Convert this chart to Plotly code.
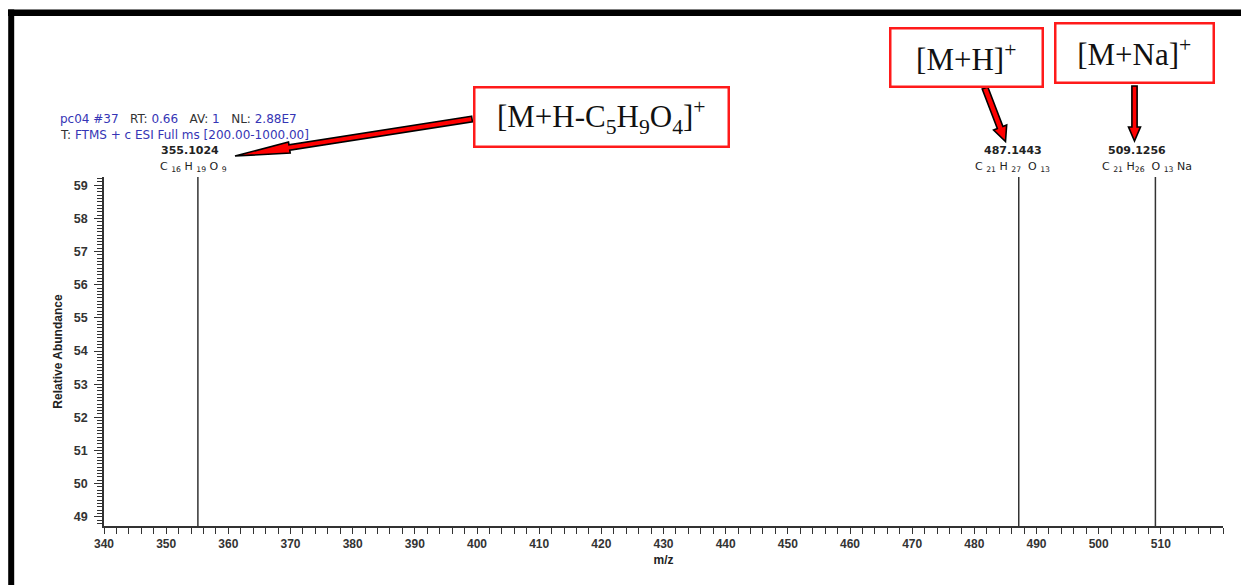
import math
import plotly.graph_objects as go

# ---------------- data ----------------
mz = [355.1024, 487.1443, 509.1256]
abundance = [100.0, 100.0, 100.0]          # peaks run off the top of the zoomed window
mass_labels = ["355.1024", "487.1443", "509.1256"]
formula_labels = [
    "C <sub>16</sub> H <sub>19</sub> O <sub>9</sub>",
    "C <sub>21</sub> H <sub>27</sub>  O <sub>13</sub>",
    "C <sub>21</sub> H<sub>26</sub>  O <sub>13</sub> Na",
]
ion_labels = [
    "[M+H-C<sub>5</sub>H<sub>9</sub>O<sub>4</sub>]<sup>+</sup>",
    "[M+H]<sup>+</sup>",
    "[M+Na]<sup>+</sup>",
]
x_ticks = list(range(340, 520, 10))
y_ticks = list(range(49, 60))
x_range = [340, 520]
y_range = [48.72, 59.25]

# ---------------- layout geometry ----------------
OFF = 8                      # page body margin offset
W, H = 1249 - OFF, 585 - OFF
L, R, T, B = 104 - OFF, 26, 177 - OFF, 59
PW, PH = W - L - R, H - T - B


def px(x):
    return (x - OFF - L) / PW


def py(y):
    return (H - B - (y - OFF)) / PH


AX = "#333333"
BLUE = "#3535b5"
FONT = "Liberation Sans, Arial, sans-serif"
WIDE = "DejaVu Sans, Verdana, sans-serif"
SERIF = "Liberation Serif, Times New Roman, serif"

# peaks as sticks
xs, ys = [], []
for m, a in zip(mz, abundance):
    xs += [m, m, None]
    ys += [0, a, None]

fig = go.Figure()
fig.add_trace(go.Scatter(x=xs, y=ys, mode="lines",
                         line=dict(color=AX, width=1.5),
                         hoverinfo="skip", showlegend=False))

annotations = []
# peak labels
num_shift = [-8, -6, -18]
form_shift = [-4, -6, -8]
for m, lab, f, s1, s2 in zip(mz, mass_labels, formula_labels, num_shift, form_shift):
    annotations.append(dict(x=m, xref="x", y=py(151), yref="paper", text=f"<b>{lab}</b>",
                            showarrow=False, xanchor="center", yanchor="middle", xshift=s1,
                            font=dict(family=WIDE, size=11, color="#222")))
    annotations.append(dict(x=m, xref="x", y=py(167), yref="paper", text=f,
                            showarrow=False, xanchor="center", yanchor="middle", xshift=s2,
                            font=dict(family=WIDE, size=11, color="#222")))

# header text
sp = "\u00a0"
line1 = (f"<span style='color:{BLUE}'>pc04{sp}#37</span>{sp*3}RT:{sp}<span style='color:{BLUE}'>0.66</span>"
         f"{sp*3}AV:{sp}<span style='color:{BLUE}'>1</span>{sp*3}NL:{sp}<span style='color:{BLUE}'>2.88E7</span>")
line2 = f"T:{sp}<span style='color:{BLUE}'>FTMS{sp}+{sp}c{sp}ESI{sp}Full{sp}ms{sp}[200.00-1000.00]</span>"
for txt, yy in [(line1, 119), (line2, 135)]:
    annotations.append(dict(x=px(58), y=py(yy), xref="paper", yref="paper", text=txt,
                            showarrow=False, xanchor="left", yanchor="middle",
                            font=dict(family=WIDE, size=12, color="#333")))

# ion boxes: (center x, center y, width, height) in reference pixels
boxes = [(601, 116.5, 254, 59), (966, 57, 152, 58), (1134, 53.5, 158, 59)]
for lab, (cx, cy, bw, bh) in zip(ion_labels, boxes):
    annotations.append(dict(x=px(cx), y=py(cy), xref="paper", yref="paper", text=lab,
                            showarrow=False, xanchor="center", yanchor="middle",
                            width=bw - 2.5, height=bh - 2.5, borderpad=0,
                            bordercolor="#ff1a1a", borderwidth=2.5, bgcolor="white",
                            font=dict(family=SERIF, size=31, color="#111")))


# arrows as polygons
def arrow_path(S, Tp, w, h, Lh):
    dx, dy = Tp[0] - S[0], Tp[1] - S[1]
    d = math.hypot(dx, dy)
    ux, uy = dx / d, dy / d
    nx, ny = -uy, ux
    Bx, By = Tp[0] - ux * Lh, Tp[1] - uy * Lh
    pts = [
        (S[0] + nx * w, S[1] + ny * w),
        (Bx + nx * w, By + ny * w),
        (Bx + nx * h, By + ny * h),
        Tp,
        (Bx - nx * h, By - ny * h),
        (Bx - nx * w, By - ny * w),
        (S[0] - nx * w, S[1] - ny * w),
    ]
    return "M " + " L ".join(f"{px(x):.5f},{py(y):.5f}" for x, y in pts) + " Z"


arrows = [((472, 119), (235, 156), 2.8, 5.5, 55),
          ((985, 88), (1005.5, 141.5), 3.0, 7.0, 15),
          ((1134.5, 86), (1134.5, 141), 2.6, 6.0, 14)]
shapes = []
for S, Tp, w, h, Lh in arrows:
    shapes.append(dict(type="path", xref="paper", yref="paper", path=arrow_path(S, Tp, w, h, Lh),
                       fillcolor="#ff0000", line=dict(color="#000", width=1.6), layer="above"))

# outer frame (top & left bars)
shapes.append(dict(type="line", xref="paper", yref="paper", x0=px(8), x1=px(1260), y0=py(12.7), y1=py(12.7),
                   line=dict(color="#000", width=6.5)))
shapes.append(dict(type="line", xref="paper", yref="paper", x0=px(11.2), x1=px(11.2), y0=py(9.5), y1=py(600),
                   line=dict(color="#000", width=6)))

tickfont = dict(family=FONT, size=12, color=AX, weight="bold")
fig.update_layout(
    width=W, height=H,
    margin=dict(l=L, r=R, t=T, b=B, pad=0),
    paper_bgcolor="white", plot_bgcolor="white",
    showlegend=False,
    xaxis=dict(range=x_range, tickvals=x_ticks, ticks="outside", ticklen=6, tickwidth=1.2,
               tickcolor=AX, showline=True, linecolor=AX, linewidth=1.5, showgrid=False,
               zeroline=False, automargin=False, tickfont=tickfont,
               minor=dict(tick0=340, dtick=2, ticks="outside", ticklen=6, tickwidth=1.2,
                          tickcolor=AX, showgrid=False),
               title=dict(text="m/z", font=dict(family=FONT, size=12, color="#222", weight="bold"),
                          standoff=5)),
    yaxis=dict(range=y_range, tickvals=y_ticks, ticks="outside", ticklen=8, tickwidth=1.2,
               tickcolor=AX, showline=True, linecolor=AX, linewidth=1.5, showgrid=False,
               zeroline=False, automargin=False, tickfont=dict(family=FONT, size=12.5, color=AX, weight="bold"),
               ticklabelstandoff=4,
               minor=dict(tick0=49, dtick=0.1, ticks="outside", ticklen=5, tickwidth=1,
                          tickcolor=AX, showgrid=False),
               title=dict(text="Relative Abundance",
                          font=dict(family=FONT, size=12, color="#222", weight="bold"),
                          standoff=9)),
    annotations=annotations,
    shapes=shapes,
)

fig.write_html("out.html")
